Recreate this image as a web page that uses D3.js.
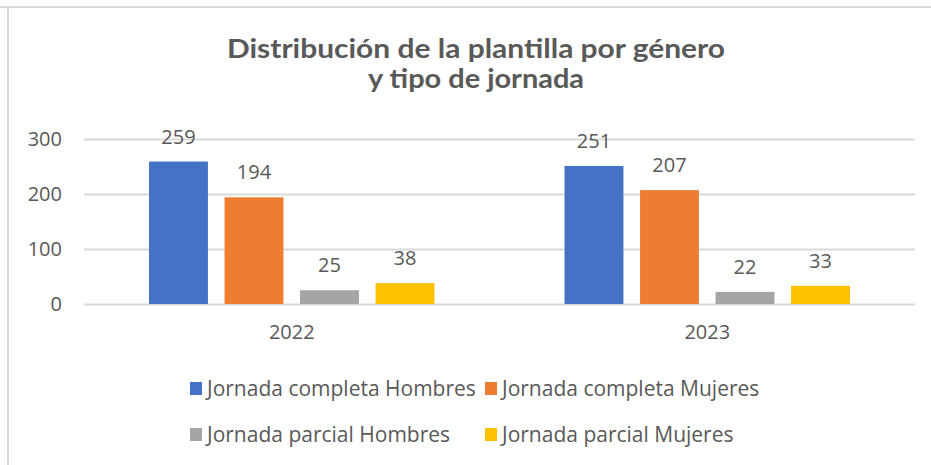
<!DOCTYPE html>
<html>
<head>
<meta charset="utf-8">
<script src="https://cdn.jsdelivr.net/npm/d3@7"></script>
<style>
  body { margin: 0; background: #fff; }
  text { font-family: "Open Sans", sans-serif; fill: #595959; }
</style>
</head>
<body>
<div id="chart"></div>
<script>
var years = ["2022", "2023"];
var series = ["Jornada completa Hombres", "Jornada completa Mujeres",
              "Jornada parcial Hombres", "Jornada parcial Mujeres"];
var completaHombres = [259, 251];
var completaMujeres = [194, 207];
var parcialHombres = [25, 22];
var parcialMujeres = [38, 33];
var yTicks = [0, 100, 200, 300];
var colors = ["#4472C4", "#ED7D31", "#A5A5A5", "#FFC000"];
var titleLines = ["Distribución de la plantilla por género", "y tipo de jornada"];

var values = [completaHombres, completaMujeres, parcialHombres, parcialMujeres];

var width = 931, height = 465;
var plot = {left: 84, right: 915, top: 139, bottom: 304};

var svg = d3.select("#chart")
  .append("svg")
    .attr("width", width)
    .attr("height", height);

// chart frame (only top and left edges are visible)
svg.append("line")
    .attr("x1", 0).attr("x2", width)
    .attr("y1", 7).attr("y2", 7)
    .style("stroke", "#d9d9d9").style("stroke-width", 2);
svg.append("line")
    .attr("x1", 8).attr("x2", 8)
    .attr("y1", 7).attr("y2", height)
    .style("stroke", "#d9d9d9").style("stroke-width", 2);

// title
var titleWidths = [498, 216];
svg.append("g").selectAll("text")
  .data(titleLines)
  .enter()
  .append("text")
    .attr("x", 476)
    .attr("y", function(d, i) { return 58 + i * 30; })
    .attr("text-anchor", "middle")
    .attr("textLength", function(d, i) { return titleWidths[i]; })
    .attr("lengthAdjust", "spacingAndGlyphs")
    .style("font-family", "Lato, sans-serif")
    .style("font-weight", "bold")
    .style("font-size", "27px")
    .text(function(d) { return d; });

var x = d3.scaleBand()
  .domain(years)
  .range([plot.left, plot.right]);

var xInner = d3.scaleBand()
  .domain(series)
  .range([x.bandwidth() * 0.1565, x.bandwidth() * 0.8435])
  .paddingInner(0.22);

var y = d3.scaleLinear()
  .domain([0, 300])
  .range([plot.bottom, plot.top]);

// y axis + gridlines
var yAxis = svg.append("g")
  .attr("transform", "translate(" + plot.left + ",0)")
  .call(d3.axisLeft(y).tickValues(yTicks).tickSize(-(plot.right - plot.left)).tickPadding(22));
yAxis.select(".domain").remove();
yAxis.selectAll("line").style("stroke", "#d9d9d9").style("stroke-width", 2);
yAxis.selectAll("text")
  .style("font-family", "'Open Sans', sans-serif")
  .style("font-size", "20px")
  .style("fill", "#595959");

// x axis labels
var xAxis = svg.append("g")
  .attr("transform", "translate(0," + plot.bottom + ")")
  .call(d3.axisBottom(x).tickSize(0).tickPadding(21));
xAxis.select(".domain").remove();
xAxis.selectAll("text")
  .style("font-family", "'Open Sans', sans-serif")
  .style("font-size", "20px")
  .style("fill", "#595959");

// bars
var groups = svg.selectAll(".year")
  .data(years)
  .enter()
  .append("g")
    .attr("class", "year")
    .attr("transform", function(d) { return "translate(" + x(d) + ",0)"; });

groups.selectAll("rect")
  .data(function(d, i) { return series.map(function(s, j) { return {s: s, v: values[j][i], c: colors[j]}; }); })
  .enter()
  .append("rect")
    .attr("x", function(d) { return xInner(d.s); })
    .attr("y", function(d) { return y(d.v); })
    .attr("width", xInner.bandwidth())
    .attr("height", function(d) { return y(0) - y(d.v); })
    .style("fill", function(d) { return d.c; });

groups.selectAll(".label")
  .data(function(d, i) { return series.map(function(s, j) { return {s: s, v: values[j][i]}; }); })
  .enter()
  .append("text")
    .attr("class", "label")
    .attr("x", function(d) { return xInner(d.s) + xInner.bandwidth() / 2; })
    .attr("y", function(d) { return y(d.v) - 18; })
    .attr("text-anchor", "middle")
    .style("font-size", "20px")
    .text(function(d) { return d.v; });

// legend
var legCols = [190, 485], legRows = [382, 428];
var legend = svg.selectAll(".legend")
  .data(series)
  .enter()
  .append("g")
    .attr("class", "legend")
    .attr("transform", function(d, i) {
      return "translate(" + legCols[i % 2] + "," + legRows[Math.floor(i / 2)] + ")";
    });
legend.append("rect")
    .attr("width", 12)
    .attr("height", 13)
    .style("fill", function(d, i) { return colors[i]; });
legend.append("text")
    .attr("x", 17)
    .attr("y", 14)
    .style("font-size", "21px")
    .text(function(d) { return d; });
</script>
</body>
</html>
